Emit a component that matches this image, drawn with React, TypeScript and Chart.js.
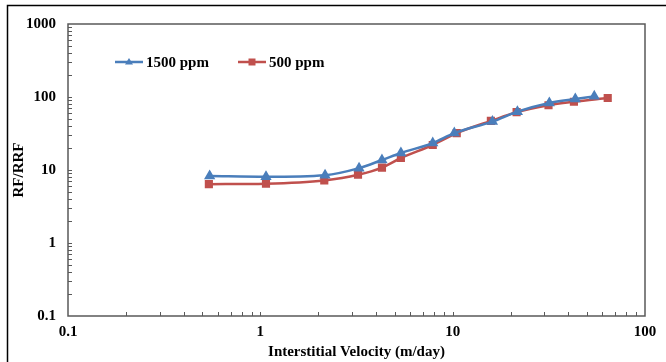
import React, { useEffect, useRef } from "react";
import { Chart, registerables } from "chart.js";

Chart.register(...registerables);

// Interstitial velocity (m/day) and resistance factor for each polymer concentration
const velocity1500 = [0.545, 1.07, 2.17, 3.26, 4.29, 5.38, 7.88, 10.2, 16.1, 21.7, 31.8, 43.4, 54.5];
const rf1500 = [8.3, 8.1, 8.5, 10.6, 13.7, 17.1, 23.4, 32, 46, 63, 83, 94, 102];

const velocity500 = [0.54, 1.07, 2.15, 3.22, 4.29, 5.38, 7.88, 10.5, 15.8, 21.5, 31.5, 42.7, 64];
const rf500 = [6.4, 6.5, 7.2, 8.6, 10.8, 14.6, 22, 32, 47, 62, 77, 86, 97];

const seriesLabels = ["1500 ppm", "500 ppm"];
const seriesColors = ["#4A7EBB", "#C0504D"];

const xTickValues = [0.1, 1, 10, 100];
const yTickValues = [0.1, 1, 10, 100, 1000];

const xTitle = "Interstitial Velocity (m/day)";
const yTitle = "RF/RRF";

const FONT = "'Liberation Serif', 'Times New Roman', serif";
const AXIS_COLOR = "#595959";

// Page frame, plot frame, inward tick marks and the in-plot legend
const decorPlugin = {
  id: "decor",
  beforeDraw(chart: any) {
    const { ctx, width, height } = chart;
    ctx.save();
    ctx.fillStyle = "#ffffff";
    ctx.fillRect(0, 0, width, height);
    ctx.strokeStyle = "#000000";
    ctx.lineWidth = 1.5;
    ctx.beginPath();
    ctx.moveTo(7.5, height);
    ctx.lineTo(7.5, 5.5);
    ctx.lineTo(width, 5.5);
    ctx.stroke();
    ctx.restore();
  },
  beforeDatasetsDraw(chart: any) {
    const { ctx, chartArea } = chart;
    const xs = chart.scales.x;
    const ys = chart.scales.y;
    ctx.save();
    ctx.strokeStyle = AXIS_COLOR;
    ctx.lineWidth = 1.5;
    ctx.strokeRect(chartArea.left, chartArea.top, chartArea.right - chartArea.left, chartArea.bottom - chartArea.top);

    ctx.lineWidth = 1;
    ctx.beginPath();
    for (let d = -1; d < 2; d++) {
      for (let m = 1; m <= 9; m++) {
        const v = m * Math.pow(10, d);
        if (v <= xs.min || v >= xs.max) continue;
        const px = Math.round(xs.getPixelForValue(v)) + 0.5;
        ctx.moveTo(px, chartArea.bottom);
        ctx.lineTo(px, chartArea.bottom - 4);
      }
    }
    for (let d = -1; d < 3; d++) {
      for (let m = 1; m <= 9; m++) {
        const v = m * Math.pow(10, d);
        if (v <= ys.min || v >= ys.max) continue;
        const py = Math.round(ys.getPixelForValue(v)) + 0.5;
        ctx.moveTo(chartArea.left, py);
        ctx.lineTo(chartArea.left + 4, py);
      }
    }
    ctx.stroke();
    ctx.restore();
  },
  afterDraw(chart: any) {
    const { ctx } = chart;
    const entries = [
      { x: 115, text: seriesLabels[0], color: seriesColors[0], marker: "triangle" },
      { x: 238, text: seriesLabels[1], color: seriesColors[1], marker: "square" },
    ];
    const y = 62;
    ctx.save();
    entries.forEach((e) => {
      ctx.strokeStyle = e.color;
      ctx.fillStyle = e.color;
      ctx.lineWidth = 2.5;
      ctx.beginPath();
      ctx.moveTo(e.x, y);
      ctx.lineTo(e.x + 28, y);
      ctx.stroke();
      const cx = e.x + 14;
      ctx.beginPath();
      if (e.marker === "triangle") {
        ctx.moveTo(cx, y - 4);
        ctx.lineTo(cx + 4, y + 2.5);
        ctx.lineTo(cx - 4, y + 2.5);
        ctx.closePath();
      } else {
        ctx.rect(cx - 3.5, y - 3.5, 7, 7);
      }
      ctx.fill();
      ctx.fillStyle = "#000000";
      ctx.font = `bold 15px ${FONT}`;
      ctx.textBaseline = "middle";
      ctx.textAlign = "left";
      ctx.fillText(e.text, e.x + 31, y + 1);
    });
    ctx.restore();
  },
};

export default function App() {
  const canvasRef = useRef<HTMLCanvasElement | null>(null);

  useEffect(() => {
    if (!canvasRef.current) return;
    const makeData = (xs: number[], ys: number[]) => xs.map((x, i) => ({ x, y: ys[i] }));

    const chart = new Chart(canvasRef.current, {
      type: "line",
      data: {
        datasets: [
          {
            label: seriesLabels[0],
            data: makeData(velocity1500, rf1500),
            borderColor: seriesColors[0],
            backgroundColor: seriesColors[0],
            pointStyle: "triangle",
            pointRadius: 4,
            borderWidth: 2.5,
            tension: 0.4,
            cubicInterpolationMode: "monotone",
          },
          {
            label: seriesLabels[1],
            data: makeData(velocity500, rf500),
            borderColor: seriesColors[1],
            backgroundColor: seriesColors[1],
            pointStyle: "rect",
            pointRadius: 4,
            borderWidth: 2.5,
            tension: 0.4,
            cubicInterpolationMode: "monotone",
          },
        ],
      },
      options: {
        animation: false,
        responsive: false,
        maintainAspectRatio: false,
        layout: { padding: { left: 0, top: 24, right: 21, bottom: 0 } },
        plugins: {
          legend: { display: false },
          tooltip: { enabled: false },
        },
        scales: {
          x: {
            type: "logarithmic",
            min: 0.1,
            max: 100,
            grid: { display: false, drawTicks: false },
            border: { display: false },
            afterBuildTicks: (scale: any) => {
              scale.ticks = xTickValues.map((v) => ({ value: v }));
            },
            afterFit: (scale: any) => {
              scale.height = 46;
            },
            ticks: {
              color: "#000000",
              font: { family: FONT, size: 15, weight: "bold" },
              padding: 7,
              maxRotation: 0,
              autoSkip: false,
              callback: (v: any) => String(v),
            },
            title: {
              display: true,
              text: xTitle,
              color: "#000000",
              font: { family: FONT, size: 15, weight: "bold" },
              padding: { top: 0, bottom: 1 },
            },
          },
          y: {
            type: "logarithmic",
            min: 0.1,
            max: 1000,
            grid: { display: false, drawTicks: false },
            border: { display: false },
            afterBuildTicks: (scale: any) => {
              scale.ticks = yTickValues.map((v) => ({ value: v }));
            },
            afterFit: (scale: any) => {
              scale.width = 68;
            },
            ticks: {
              color: "#000000",
              font: { family: FONT, size: 15, weight: "bold" },
              padding: 12,
              autoSkip: false,
              callback: (v: any) => String(v),
            },
            title: {
              display: true,
              text: yTitle,
              color: "#000000",
              font: { family: FONT, size: 15, weight: "bold" },
              padding: { top: 10, bottom: 0 },
            },
          },
        },
      },
      plugins: [decorPlugin],
    } as any);

    return () => chart.destroy();
  }, []);

  return (
    <div style={{ position: "fixed", left: 0, top: 0, width: 666, height: 362, background: "#fff" }}>
      <canvas ref={canvasRef} width={666} height={362} style={{ display: "block", width: 666, height: 362 }} />
    </div>
  );
}
